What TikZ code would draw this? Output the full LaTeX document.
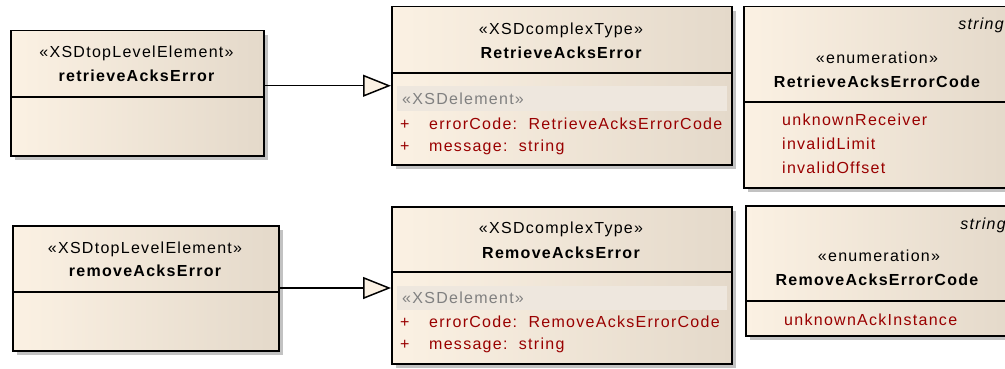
\documentclass[tikz,border=0pt]{standalone}
\usepackage{fontspec}
\setmainfont{Liberation Sans}
\newfontfamily\umlfont[LetterSpace=8]{Liberation Sans}
\usetikzlibrary{arrows.meta}
\definecolor{umlA}{HTML}{FBF1E3}
\definecolor{umlB}{HTML}{E4D9CA}
\definecolor{attr}{HTML}{990000}
\definecolor{shad}{HTML}{C2C2C2}
\definecolor{band}{HTML}{EEE7DE}
\definecolor{bandtext}{HTML}{808080}
\tikzset{
  umlbox/.style={draw=black, line width=1.5pt, left color=umlA, right color=umlB, inner sep=0pt, anchor=north west},
  divider/.style={draw=black, line width=1.5pt},
  shadow/.style={fill=shad},
  txt/.style={inner sep=0pt, yshift=-3.5pt},
  stereo/.style={txt, font=\umlfont\fontsize{16}{18}\selectfont, anchor=mid},
  cname/.style={txt, font=\umlfont\bfseries\fontsize{16}{18}\selectfont, anchor=mid},
  attrtxt/.style={txt, font=\umlfont\fontsize{16}{18}\selectfont, text=attr, anchor=mid west},
  bandtxt/.style={txt, font=\umlfont\fontsize{16}{18}\selectfont, text=bandtext, anchor=mid west},
  basetxt/.style={txt, font=\umlfont\itshape\fontsize{16}{18}\selectfont, anchor=mid east},
  gen/.style={draw=black, line width=1.5pt, -{Triangle[length=28pt,width=22pt,fill=umlA,line width=1.5pt]}},
}
\begin{document}
\begin{tikzpicture}[x=1pt,y=-1pt]
\useasboundingbox (0,0) rectangle (1005,369);
\clip (0,0) rectangle (1005,369);
% ---------- shadows
\fill[shadow] (15,35) rectangle (268,160);
\fill[shadow] (396,11) rectangle (736,169);
\fill[shadow] (748,11) rectangle (1017,192);
\fill[shadow] (17,230) rectangle (283,355);
\fill[shadow] (396,211) rectangle (736,368);
\fill[shadow] (750,210) rectangle (1017,340);
% ---------- boxes
\node[umlbox, minimum width=253pt, minimum height=125pt] (b1) at (10,30) {};
\node[umlbox, minimum width=340pt, minimum height=158pt] (b2) at (391,6) {};
\node[umlbox, minimum width=269pt, minimum height=181pt] (e1) at (743,6) {};
\node[umlbox, minimum width=266pt, minimum height=125pt] (b4) at (12,225) {};
\node[umlbox, minimum width=340pt, minimum height=157pt] (b5) at (391,206) {};
\node[umlbox, minimum width=267pt, minimum height=130pt] (e2) at (745,205) {};
% ---------- dividers
\draw[divider] (10,97) -- (263,97);
\draw[divider] (391,73) -- (731,73);
\draw[divider] (743,102) -- (1012,102);
\draw[divider] (12,292) -- (278,292);
\draw[divider] (391,272) -- (731,272);
\draw[divider] (745,301) -- (1012,301);
% ---------- XSDelement bands
\fill[band] (397,86) rectangle (727,111);
\fill[band] (397,286) rectangle (727,310);
% ---------- box 1
\node[stereo] (b1s) at (136.5,51.5) {«XSDtopLevelElement»};
\node[cname] (b1n) at (136.5,75) {retrieveAcksError};
% ---------- box 2
\node[stereo] (b2s) at (561,28) {«XSDcomplexType»};
\node[cname] (b2n) at (561,52) {RetrieveAcksError};
\node[bandtxt] (b2b) at (402,98) {«XSDelement»};
\node[attrtxt] (b2p1) at (400,123) {+};
\node[attrtxt] (b2a1) at (429,123) {errorCode:\ \ RetrieveAcksErrorCode};
\node[attrtxt] (b2p2) at (400,145) {+};
\node[attrtxt] (b2a2) at (429,145) {message:\ \ string};
% ---------- enum 1
\node[basetxt] (e1b) at (1004,23) {string};
\node[stereo] (e1s) at (877,57) {«enumeration»};
\node[cname] (e1n) at (877,81) {RetrieveAcksErrorCode};
\node[attrtxt] (e1a1) at (782,119) {unknownReceiver};
\node[attrtxt] (e1a2) at (782,143) {invalidLimit};
\node[attrtxt] (e1a3) at (782,167) {invalidOffset};
% ---------- box 4
\node[stereo] (b4s) at (145,247) {«XSDtopLevelElement»};
\node[cname] (b4n) at (145,270) {removeAcksError};
% ---------- box 5
\node[stereo] (b5s) at (561,227) {«XSDcomplexType»};
\node[cname] (b5n) at (561,252) {RemoveAcksError};
\node[bandtxt] (b5b) at (402,297) {«XSDelement»};
\node[attrtxt] (b5p1) at (400,321) {+};
\node[attrtxt] (b5a1) at (429,321) {errorCode:\ \ RemoveAcksErrorCode};
\node[attrtxt] (b5p2) at (400,343) {+};
\node[attrtxt] (b5a2) at (429,343) {message:\ \ string};
% ---------- enum 2
\node[basetxt] (e2b) at (1006,223) {string};
\node[stereo] (e2s) at (879,255) {«enumeration»};
\node[cname] (e2n) at (877,279) {RemoveAcksErrorCode};
\node[attrtxt] (e2a1) at (784,319) {unknownAckInstance};
% ---------- generalizations
\draw[gen] (b1.east |- b2.west) -- (b2.west);
\draw[gen] (b4.east |- 0,288) -- (b5.west |- 0,288);
\end{tikzpicture}
\end{document}
